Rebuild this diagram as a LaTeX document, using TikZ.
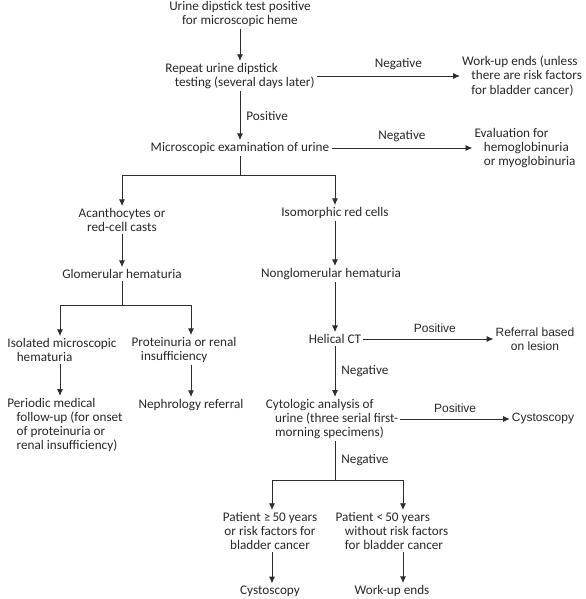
\documentclass[tikz,border=0pt]{standalone}
\usepackage{fontspec}
\setmainfont{Carlito}
\newfontfamily\arialfont{Liberation Sans}
\usetikzlibrary{arrows.meta,positioning,calc}
\definecolor{Ink}{RGB}{40,40,40}
\definecolor{Wire}{RGB}{45,45,45}
\tikzset{
  arr/.style={-{Latex[length=5pt,width=4.5pt]}, line width=0.6pt, draw=Wire},
  wire/.style={line width=0.6pt, draw=Wire},
  txt/.style={font=\fontsize{9.9}{10.6}\selectfont, text=Ink, inner sep=1.5pt, align=center},
  hang/.style={txt, align=left},
  atxt/.style={font=\arialfont\fontsize{9}{10.6}\selectfont, text=Ink, inner sep=1.5pt, align=center},
  lab/.style={txt},
  alab/.style={atxt},
}
\newcommand{\hin}{\hspace*{7pt}}

\begin{document}
\begin{tikzpicture}[x=0.75pt,y=-0.75pt]
\useasboundingbox (0,0) rectangle (585,599);

% ---- Main column ----
\node[txt] (dip) at (240,14) {Urine dipstick test positive\\for microscopic heme};
\node[hang] (rep) at (240,76) {Repeat urine dipstick\\\hin testing (several days later)};
\node[hang] (wend) at (522,76) {Work-up ends (unless\\\hin there are risk factors\\\hin for bladder cancer)};
\node[txt] (micro) at (240,148) {Microscopic examination of urine};
\node[hang] (evalh) at (525,148) {Evaluation for\\\hin hemoglobinuria\\\hin or myoglobinuria};

% ---- Left branch ----
\node[txt] (acan) at (122,220) {Acanthocytes or\\red-cell casts};
\node[txt] (glom) at (122,274) {Glomerular hematuria};
\node[hang] (isol) at (62,350) {Isolated microscopic\\\hin hematuria};
\node[hang] (prot) at (184,350) {Proteinuria or renal\\\hin insufficiency};
\node[hang] (period) at (65,425) {Periodic medical\\\hin follow-up (for onset\\\hin of proteinuria or\\\hin renal insufficiency)};
\node[txt] (nephro) at (191,405) {Nephrology referral};

% ---- Right branch ----
\node[txt] (iso) at (335,213) {Isomorphic red cells};
\node[txt] (nonglom) at (331,274) {Nonglomerular hematuria};
\node[txt] (ct) at (335,339) {Helical CT};
\node[atxt] (lesion) at (535,339) {Referral based\\on lesion};
\node[hang] (cyto) at (332,419) {Cytologic analysis of\\\hin urine (three serial first-\\\hin morning specimens)};
\node[atxt] (cysto) at (543,419) {Cystoscopy};
\node[txt] (old) at (270,531) {Patient ≥\,50 years\\or risk factors for\\bladder cancer};
\node[hang] (young) at (392,531) {Patient <\,50 years\\\hin without risk factors\\\hin for bladder cancer};
\node[txt] (cysto2) at (270,591) {Cystoscopy};
\node[txt] (wend2) at (392,591) {Work-up ends};

% ---- Split points ----
\coordinate (s1) at (240,175);
\coordinate (s1l) at (122,175);
\coordinate (s1r) at (335,175);
\coordinate (s2) at (122,305);
\coordinate (s2l) at (60,305);
\coordinate (s2r) at (191,305);
\coordinate (s3) at (335,480);
\coordinate (s3l) at (272,480);
\coordinate (s3r) at (403,480);

% ---- Arrows ----
\draw[arr] (dip) -- (rep);
\draw[arr] (rep) -- node[lab, above=3pt, pos=0.57] {Negative} (wend);
\draw[arr] (rep) -- node[lab, right=3pt] {Positive} (micro);
\draw[arr] (micro) -- node[lab, above=3pt] {Negative} (evalh);

\draw[wire] (micro) -- (s1);
\draw[wire] (s1l) -- (s1r);
\draw[arr] (s1l) -- (s1l |- acan.north);
\draw[arr] (s1r) -- (s1r |- iso.north);

\draw[arr] (acan) -- (glom);
\draw[wire] (glom) -- (s2);
\draw[wire] (s2l) -- (s2r);
\draw[arr] (s2l) -- (s2l |- isol.north);
\draw[arr] (s2r) -- (s2r |- prot.north);
\draw[arr] (s2l |- isol.south) -- (s2l |- period.north);
\draw[arr] (s2r |- prot.south) -- (nephro);

\draw[arr] (iso) -- (iso |- nonglom.north);
\draw[arr] (iso |- nonglom.south) -- (ct);
\draw[arr] (ct) -- node[alab, above=3pt, pos=0.55] {Positive} (lesion);
\draw[arr] (ct) -- node[lab, right=3pt] {Negative} (ct |- cyto.north);
\draw[arr] (cyto) -- node[alab, above=3pt] {Positive} (cysto);

\draw[wire] (ct |- cyto.south) -- node[lab, right=3pt] {Negative} (s3);
\draw[wire] (s3l) -- (s3r);
\draw[arr] (s3l) -- (s3l |- old.north);
\draw[arr] (s3r) -- (s3r |- young.north);
\draw[arr] (s3l |- old.south) -- (s3l |- cysto2.north);
\draw[arr] (s3r |- young.south) -- (s3r |- wend2.north);

\end{tikzpicture}
\end{document}
